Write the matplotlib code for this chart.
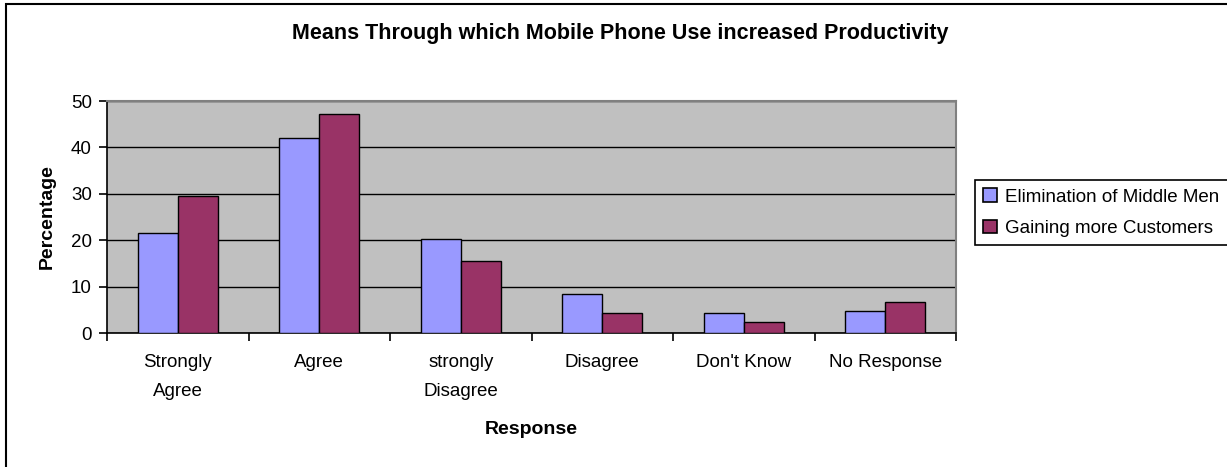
import matplotlib
matplotlib.use("Agg")
import matplotlib.pyplot as plt
from matplotlib.patches import Rectangle, Patch
import numpy as np

plt.rcParams['font.family'] = ['Liberation Sans', 'DejaVu Sans']

categories = ["Strongly\nAgree", "Agree", "strongly\nDisagree", "Disagree", "Don't Know", "No Response"]
series_names = ["Elimination of Middle Men", "Gaining more Customers"]
elimination = [21.6, 42.0, 20.3, 8.3, 4.4, 4.7]
customers = [29.6, 47.2, 15.6, 4.4, 2.4, 6.7]
yticks = [0, 10, 20, 30, 40, 50]
colors = ["#9999FF", "#993366"]

W, H = 1227, 467
fig = plt.figure(figsize=(W / 100, H / 100), dpi=100)
fig.patch.set_facecolor("white")

# outer chart border
fig.patches.append(Rectangle((6 / W, -0.1), 1.2, 1 - 3.5 / H + 0.1, transform=fig.transFigure,
                             fill=False, edgecolor="black", linewidth=1.5, zorder=0))

ax = fig.add_axes([107 / W, 1 - 333 / H, (956 - 107) / W, (333 - 101) / H])
ax.set_facecolor("#C0C0C0")

x = np.arange(len(categories)) + 0.5
bw = 0.283
ax.bar(x - bw / 2, elimination, bw, color=colors[0], edgecolor="black", linewidth=1.0, zorder=3,
       label=series_names[0])
ax.bar(x + bw / 2, customers, bw, color=colors[1], edgecolor="black", linewidth=1.0, zorder=3,
       label=series_names[1])

ax.set_xlim(0, len(categories))
ax.set_ylim(0, 50)
ax.set_yticks(yticks)
ax.set_yticklabels([str(v) for v in yticks], fontsize=13.5)
ax.yaxis.grid(True, color="black", linewidth=1.0, zorder=1)
ax.set_axisbelow(True)

ax.set_xticks(np.arange(len(categories) + 1))
ax.set_xticklabels([])
ax.set_xticks(x, minor=True)
ax.set_xticklabels(categories, minor=True, fontsize=13.5, linespacing=1.9)
ax.tick_params(axis="x", which="minor", length=0, pad=15)
ax.tick_params(axis="x", which="major", length=6, width=1.2, direction="out")
ax.tick_params(axis="y", length=6, width=1.2, direction="out", pad=5)

for s in ["top", "right"]:
    ax.spines[s].set_color("#808080")
    ax.spines[s].set_linewidth(1.5)
for s in ["left", "bottom"]:
    ax.spines[s].set_color("black")
    ax.spines[s].set_linewidth(1.2)

fig.text(620 / W, 1 - 33 / H, "Means Through which Mobile Phone Use increased Productivity",
         ha="center", va="center", fontsize=15.5, fontweight="bold")
fig.text(47 / W, 1 - 217 / H, "Percentage", rotation=90, ha="center", va="center",
         fontsize=14, fontweight="bold")
fig.text(531 / W, 1 - 430 / H, "Response", ha="center", va="center",
         fontsize=14, fontweight="bold")

handles = [Patch(facecolor=colors[0], edgecolor="black", linewidth=1.2),
           Patch(facecolor=colors[1], edgecolor="black", linewidth=1.2)]
leg = fig.legend(handles, series_names, loc="upper left",
                 bbox_to_anchor=(975 / W, 1 - 180 / H), fontsize=13.5,
                 frameon=True, fancybox=False, edgecolor="black", framealpha=1,
                 handlelength=0.7, handleheight=0.7, handletextpad=0.45,
                 borderpad=0.45, labelspacing=0.75, borderaxespad=0)
leg.get_frame().set_linewidth(1.2)

fig.savefig("out.png", dpi=100)
